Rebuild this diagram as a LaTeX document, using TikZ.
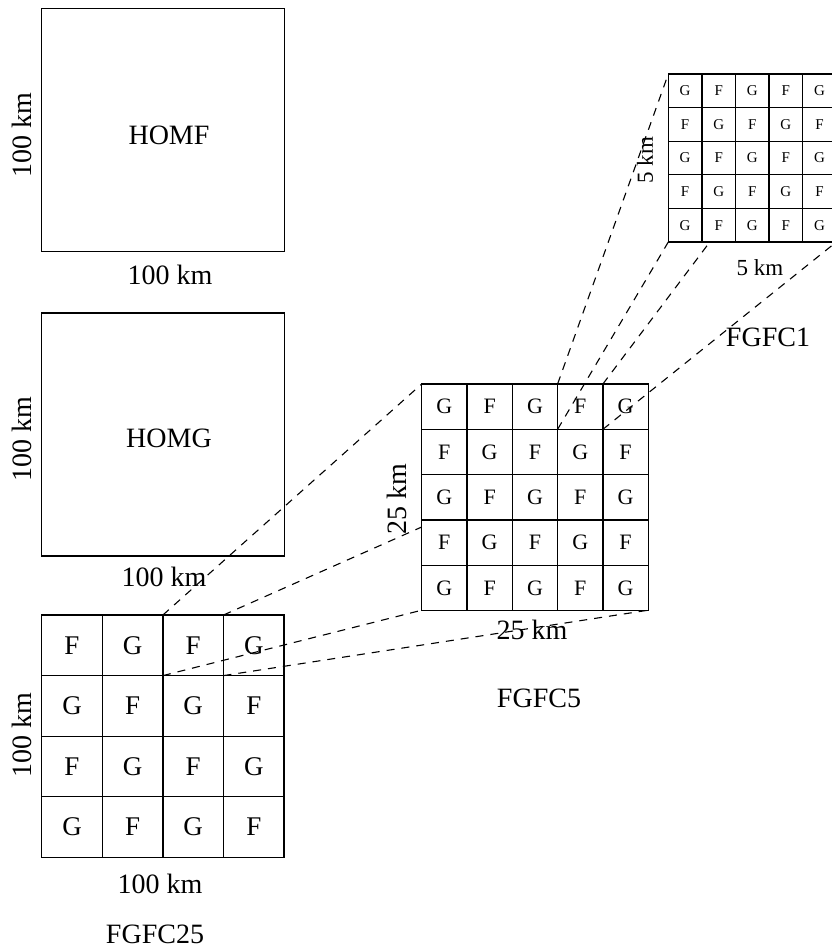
\documentclass[tikz,border=0pt]{standalone}
\usepackage{fontspec}
\setmainfont{Liberation Serif}
\begin{document}
\begin{tikzpicture}[x=1pt,y=-1pt,
  box/.style={draw, line width=1.3pt, minimum width=242.5pt, minimum height=243pt, inner sep=0pt, outer sep=0pt, anchor=north west},
  lab/.style={font=\fontsize{28}{28}\selectfont, inner sep=0pt},
  bigcell/.style={draw, fill=white, line width=1.3pt, minimum size=60.6pt, inner sep=0pt, outer sep=0pt, anchor=north west, font=\fontsize{27}{27}\selectfont},
  midcell/.style={draw, fill=white, line width=1.3pt, minimum size=45.3pt, inner sep=0pt, outer sep=0pt, anchor=north west, font=\fontsize{22}{22}\selectfont},
  smallcell/.style={draw, fill=white, line width=1.3pt, minimum size=33.6pt, inner sep=0pt, outer sep=0pt, anchor=north west, font=\fontsize{15}{15}\selectfont},
  proj/.style={line width=1.1pt, dash pattern=on 8pt off 7pt}
]
\path[use as bounding box, clip] (0,0) rectangle (832,951);
\fill[white] (0,0) rectangle (832,951);

% coordinates of the magnified grids
\coordinate (mTL) at (421.7,384);
\coordinate (mBL) at (421.7,610.2);
\coordinate (mBR) at (648.2,610.2);
\coordinate (mL) at (421.7,527);
\coordinate (sTL) at (668.3,74);
\coordinate (sTR) at (836.3,74);
\coordinate (sBL) at (668.3,242);
\coordinate (sBR) at (836.3,242);

% HOMF
\node[box] (homf) at (41.7,8.5) {};
\node[lab] (homft) at (169,135) {HOMF};
\node[lab, rotate=90] (homfl) at (22,135) {100 km};
\node[lab] (homfb) at (170,275) {100 km};

% HOMG
\node[box] (homg) at (41.7,313) {};
\node[lab] (homgt) at (169,438) {HOMG};
\node[lab, rotate=90] (homgl) at (22,439) {100 km};
\node[lab] (homgb) at (164,577) {100 km};

% FGFC25 grid
\foreach \r in {1,...,4}{\foreach \c in {1,...,4}{
  \pgfmathtruncatemacro\s{\r+\c}
  \node[bigcell] (L-\r-\c) at ({41.7+(\c-1)*60.6},{615+(\r-1)*60.6}) {\ifodd\s G\else F\fi};
}}
\node[lab, rotate=90] (fl) at (22,735) {100 km};
\node[lab] (fb) at (160,884) {100 km};
\node[lab] (fn) at (155,934) {FGFC25};

% projection to FGFC5
\draw[proj] (L-1-3.north west) -- (mTL);
\draw[proj] (L-1-3.north east) -- (mL);
\draw[proj] (L-1-3.south west) -- (mBL);
\draw[proj] (L-1-3.south east) -- (mBR);

% FGFC5 grid
\foreach \r in {1,...,5}{\foreach \c in {1,...,5}{
  \pgfmathtruncatemacro\s{\r+\c}
  \node[midcell] (M-\r-\c) at ({421.7+(\c-1)*45.3},{384+(\r-1)*45.3}) {\ifodd\s F\else G\fi};
}}
\node[lab, rotate=90] (ml) at (397,499) {25 km};
\node[lab] (mb) at (532,630) {25 km};
\node[lab] (mn) at (539,698) {FGFC5};

% projection to FGFC1
\draw[proj] (M-1-4.north west) -- (sTL);
\draw[proj] (M-1-4.north east) -- (sTR);
\draw[proj] (M-1-4.south west) -- (sBL);
\draw[proj] (M-1-4.south east) -- (sBR);

% FGFC1 grid
\foreach \r in {1,...,5}{\foreach \c in {1,...,5}{
  \pgfmathtruncatemacro\s{\r+\c}
  \node[smallcell] (S-\r-\c) at ({668.3+(\c-1)*33.6},{74+(\r-1)*33.6}) {\ifodd\s F\else G\fi};
}}
\node[lab, rotate=90, font=\fontsize{23}{23}\selectfont] (sl) at (645,160) {5 km};
\node[lab, font=\fontsize{23}{23}\selectfont] (sb) at (760,268) {5 km};
\node[lab] (sn) at (768,337) {FGFC1};
\end{tikzpicture}
\end{document}
